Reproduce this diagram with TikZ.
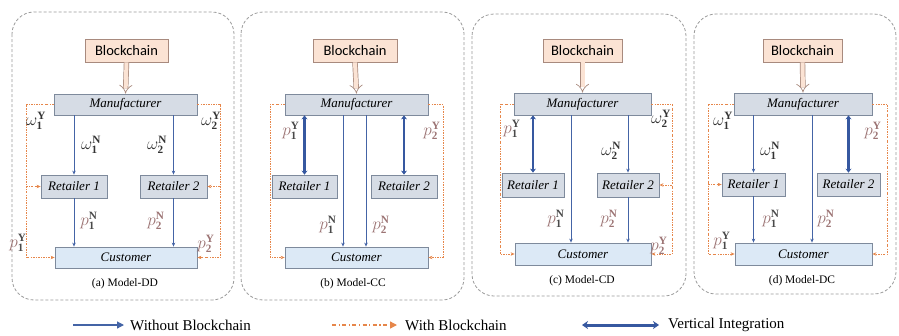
\documentclass[tikz,border=0pt]{standalone}
\usepackage{fontspec}
\setmainfont{Liberation Serif}
\newfontfamily\bcfont{Carlito}
\usetikzlibrary{arrows.meta}
\definecolor{panelgray}{HTML}{9A9A9A}
\definecolor{bcborder}{HTML}{A88A7E}
\definecolor{bcfill}{HTML}{FBE3D4}
\definecolor{boxborder}{HTML}{7E8A9C}
\definecolor{mfill}{HTML}{D6DCE5}
\definecolor{cfill}{HTML}{DCE9F6}
\definecolor{wobblue}{HTML}{4464A6}
\definecolor{wborange}{HTML}{E6864A}
\definecolor{viblue}{HTML}{3658A0}
\definecolor{pcol}{HTML}{9C7474}
\definecolor{idx}{HTML}{4A4A4A}
\definecolor{wcol}{HTML}{333333}
\newcommand{\pone}[1]{$\textcolor{pcol}{p}_{\textcolor{idx}{\mathbf{1}}}^{\textcolor{idx}{\mathbf{#1}}}$}
\newcommand{\ptwo}[1]{$\textcolor{pcol}{p_{\mathbf{2}}^{\mathbf{#1}}}$}
\newcommand{\wlab}[2]{$\textcolor{wcol}{\omega_{\mathbf{#1}}^{\mathbf{#2}}}$}
\tikzset{
  panel/.style={draw=panelgray, dash pattern=on 3pt off 2pt, line width=0.8pt, rounded corners=22pt},
  bcbox/.style={draw=bcborder, fill=bcfill, line width=0.8pt, inner sep=0pt, font=\bcfont\fontsize{14.5}{16}\selectfont},
  mbox/.style={draw=boxborder, fill=mfill, line width=0.8pt, inner sep=0pt, font=\itshape\fontsize{13}{15}\selectfont},
  cbox/.style={mbox, fill=cfill},
  wob/.style={draw=wobblue, line width=0.7pt, -{Stealth[length=4pt,width=3.5pt]}},
  wbl/.style={draw=wborange, line width=0.7pt, dash pattern=on 2pt off 1.3pt on 0.6pt off 1.3pt, -{Stealth[length=4pt,width=3.5pt]}},
  vi/.style={draw=viblue, line width=2.4pt, {Stealth[length=4pt,width=6pt]}-{Stealth[length=4pt,width=6pt]}},
  hollow/.style={draw=bcborder, double=bcfill, double distance=4pt, line width=0.7pt, -{Implies}},
  lab/.style={inner sep=0pt, font=\fontsize{16}{18}\selectfont},
  captext/.style={inner sep=0pt, font=\fontsize{11.5}{13}\selectfont},
  legtext/.style={inner sep=0pt, anchor=west, font=\fontsize{15}{17}\selectfont},
}
\begin{document}
\begin{tikzpicture}[x=1pt,y=-1pt]
\useasboundingbox (0,0) rectangle (899,335);
% panels
\draw[panel] (12,12) rectangle (234,300);
\draw[panel] (241,12) rectangle (464,300);
\draw[panel] (472,14) rectangle (686,296);
\draw[panel] (694,14) rectangle (896,294);

% ===== Panel (a) =====
\node[bcbox, minimum width=83pt, minimum height=23pt] (a-bc) at (126.5,50.5) {Blockchain};
\node[mbox, minimum width=143pt, minimum height=21pt] (a-m) at (125.5,104.5) {Manufacturer};
\node[mbox, minimum width=66pt, minimum height=23pt] (a-r1) at (74,186.5) {Retailer 1};
\node[mbox, minimum width=67pt, minimum height=23pt] (a-r2) at (173.5,186.5) {Retailer 2};
\node[cbox, minimum width=142pt, minimum height=21pt] (a-c) at (126,257.5) {Customer};
\node[captext] (a-cap) at (125,284) {(a) Model-DD};
\draw[hollow] (a-bc.south) -- (a-m.north);
\draw[wob] (a-r1 |- a-m.south) -- (a-r1.north);
\draw[wob] (a-r2 |- a-m.south) -- (a-r2.north);
\draw[wob] (a-r1.south) -- (a-r1.south |- a-c.north);
\draw[wob] (a-r2.south) -- (a-r2.south |- a-c.north);
\coordinate (a-tl) at (26,104.5); \coordinate (a-bl) at (26,257.5);
\coordinate (a-tr) at (220,104.5); \coordinate (a-br) at (220,257.5);
\draw[wbl] (a-m.west) -- (a-tl) -- (a-bl) -- (a-c.west);
\draw[wbl] (a-tl |- a-r1) -- (a-r1.west);
\draw[wbl] (a-m.east) -- (a-tr) -- (a-br) -- (a-c.east);
\draw[wbl] (a-tr |- a-r2) -- (a-r2.east);
\node[lab] (a-w1y) at (36,121) {\wlab{1}{Y}};
\node[lab] (a-w2y) at (211,121) {\wlab{2}{Y}};
\node[lab] (a-w1n) at (91,145) {\wlab{1}{N}};
\node[lab] (a-w2n) at (157,145) {\wlab{2}{N}};
\node[lab] (a-p1n) at (89,221) {\pone{N}};
\node[lab] (a-p2n) at (156,221) {\ptwo{N}};
\node[lab] (a-p1y) at (18,243) {\pone{Y}};
\node[lab] (a-p2y) at (206,244) {\ptwo{Y}};

% ===== Panel (b) =====
\node[bcbox, minimum width=84pt, minimum height=23pt] (b-bc) at (355,50.5) {Blockchain};
\node[mbox, minimum width=143pt, minimum height=21pt] (b-m) at (356.5,104.5) {Manufacturer};
\node[mbox, minimum width=65pt, minimum height=23pt] (b-r1) at (304.5,186.5) {Retailer 1};
\node[mbox, minimum width=66pt, minimum height=23pt] (b-r2) at (404,186.5) {Retailer 2};
\node[cbox, minimum width=143pt, minimum height=21pt] (b-c) at (356.5,257.5) {Customer};
\node[captext] (b-cap) at (353,284) {(b) Model-CC};
\draw[hollow] (b-bc.south) -- (b-m.north);
\draw[vi] (b-r1 |- b-m.south) -- (b-r1.north);
\draw[vi] (b-r2 |- b-m.south) -- (b-r2.north);
\coordinate (b-d1) at (343,115); \coordinate (b-d2) at (366,115);
\draw[wob] (b-d1) -- (b-d1 |- b-c.north);
\draw[wob] (b-d2) -- (b-d2 |- b-c.north);
\coordinate (b-tl) at (270,104.5); \coordinate (b-bl) at (270,257.5);
\coordinate (b-tr) at (443,104.5); \coordinate (b-br) at (443,257.5);
\draw[wbl] (b-m.west) -- (b-tl) -- (b-bl) -- (b-c.west);
\draw[wbl] (b-m.east) -- (b-tr) -- (b-br) -- (b-c.east);
\node[lab] (b-p1y) at (291,131) {\pone{Y}};
\node[lab] (b-p2y) at (432,131) {\ptwo{Y}};
\node[lab] (b-p1n) at (328,225) {\pone{N}};
\node[lab] (b-p2n) at (381,225) {\ptwo{N}};

% ===== Panel (c) =====
\node[bcbox, minimum width=79pt, minimum height=23pt] (c-bc) at (582.5,50.5) {Blockchain};
\node[mbox, minimum width=137pt, minimum height=22pt] (c-m) at (582.5,104) {Manufacturer};
\node[mbox, minimum width=62pt, minimum height=24pt] (c-r1) at (533,185) {Retailer 1};
\node[mbox, minimum width=62pt, minimum height=24pt] (c-r2) at (628,185) {Retailer 2};
\node[cbox, minimum width=136pt, minimum height=22pt] (c-c) at (583,254) {Customer};
\node[captext] (c-cap) at (582,281) {(c) Model-CD};
\draw[hollow] (c-bc.south) -- (c-m.north);
\draw[vi] (c-r1 |- c-m.south) -- (c-r1.north);
\coordinate (c-d1) at (571,115);
\draw[wob] (c-d1) -- (c-d1 |- c-c.north);
\draw[wob] (c-r2 |- c-m.south) -- (c-r2.north);
\draw[wob] (c-r2.south) -- (c-r2.south |- c-c.north);
\coordinate (c-tl) at (500,104); \coordinate (c-bl) at (500,254);
\coordinate (c-tr) at (672,104); \coordinate (c-br) at (672,254);
\draw[wbl] (c-m.west) -- (c-tl) -- (c-bl) -- (c-c.west);
\draw[wbl] (c-m.east) -- (c-tr) -- (c-br) -- (c-c.east);
\draw[wbl] (c-tr |- c-r2) -- (c-r2.east);
\node[lab] (c-p1y) at (512,129) {\pone{Y}};
\node[lab] (c-w2y) at (661,119) {\wlab{2}{Y}};
\node[lab] (c-w2n) at (611,151) {\wlab{2}{N}};
\node[lab] (c-p1n) at (556,219) {\pone{N}};
\node[lab] (c-p2n) at (609,219) {\ptwo{N}};
\node[lab] (c-p2y) at (659,246) {\ptwo{Y}};

% ===== Panel (d) =====
\node[bcbox, minimum width=79pt, minimum height=23pt] (d-bc) at (802.5,50.5) {Blockchain};
\node[mbox, minimum width=138pt, minimum height=22pt] (d-m) at (803,104) {Manufacturer};
\node[mbox, minimum width=63pt, minimum height=23pt] (d-r1) at (753.5,184.5) {Retailer 1};
\node[mbox, minimum width=63pt, minimum height=23pt] (d-r2) at (848.5,184.5) {Retailer 2};
\node[cbox, minimum width=137pt, minimum height=22pt] (d-c) at (803.5,254) {Customer};
\node[captext] (d-cap) at (802,281) {(d) Model-DC};
\draw[hollow] (d-bc.south) -- (d-m.north);
\draw[wob] (d-r1 |- d-m.south) -- (d-r1.north);
\draw[wob] (d-r1.south) -- (d-r1.south |- d-c.north);
\coordinate (d-d2) at (812,115);
\draw[wob] (d-d2) -- (d-d2 |- d-c.north);
\draw[vi] (d-r2 |- d-m.south) -- (d-r2.north);
\coordinate (d-tl) at (708,104); \coordinate (d-bl) at (708,254);
\coordinate (d-tr) at (887,104); \coordinate (d-br) at (887,254);
\draw[wbl] (d-m.west) -- (d-tl) -- (d-bl) -- (d-c.west);
\draw[wbl] (d-tl |- d-r1) -- (d-r1.west);
\draw[wbl] (d-m.east) -- (d-tr) -- (d-br) -- (d-c.east);
\node[lab] (d-w1y) at (723,121) {\wlab{1}{Y}};
\node[lab] (d-w1n) at (770,151) {\wlab{1}{N}};
\node[lab] (d-p1n) at (771,219) {\pone{N}};
\node[lab] (d-p2n) at (826,219) {\ptwo{N}};
\node[lab] (d-p2y) at (873,131) {\ptwo{Y}};
\node[lab] (d-p1y) at (722,241) {\pone{Y}};

% ===== Legend =====
\coordinate (l1a) at (73,325); \coordinate (l1b) at (124,325);
\coordinate (l2a) at (332,325); \coordinate (l2b) at (397,325);
\coordinate (l3a) at (582,325); \coordinate (l3b) at (659,325);
\draw[draw=wobblue, line width=1.2pt, -{Triangle[length=7pt,width=7pt]}] (l1a) -- (l1b);
\draw[draw=wborange, line width=1.4pt, dash pattern=on 4pt off 2.5pt on 1.2pt off 2.5pt, -{Triangle[length=7pt,width=7pt]}] (l2a) -- (l2b);
\draw[draw=viblue, line width=3pt, {Stealth[length=6pt,width=8pt]}-{Stealth[length=6pt,width=8pt]}] (l3a) -- (l3b);
\node[legtext] (l1t) at (130,325) {Without Blockchain};
\node[legtext] (l2t) at (405,325) {With Blockchain};
\node[legtext] (l3t) at (668,325) {Vertical Integration};
\end{tikzpicture}
\end{document}
